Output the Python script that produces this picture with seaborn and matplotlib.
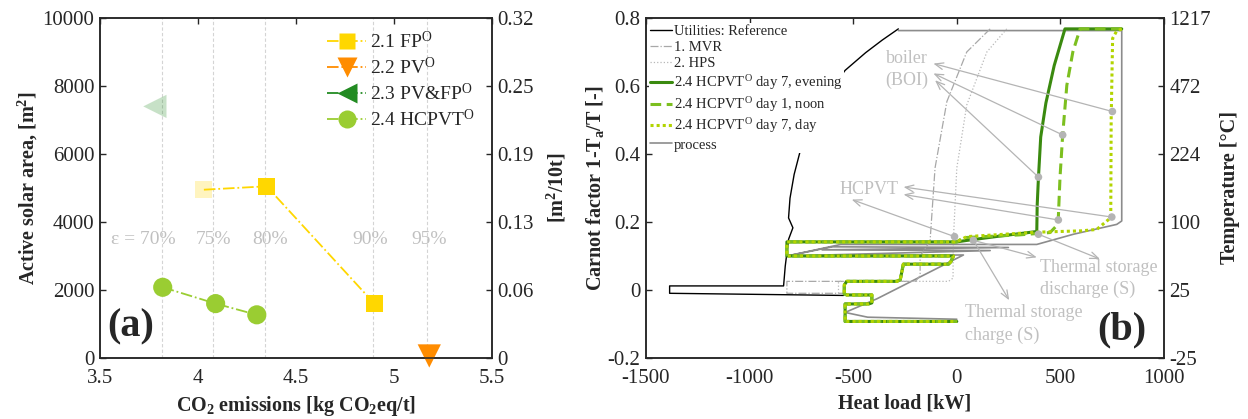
import numpy as np
import pandas as pd
import seaborn as sns
import matplotlib
matplotlib.use("Agg")
from matplotlib import pyplot as plt
from matplotlib.lines import Line2D

# ---- panel (a): active solar area vs CO2 emissions ----
fp_x = [4.03, 4.35, 4.90]
fp_y = [4950, 5050, 1600]
fp_faded = [True, False, False]
pv_x = [5.18]
pv_y = [60]
pvfp_x = [3.78]
pvfp_y = [7400]
hcpvt_x = [3.82, 4.09, 4.30]
hcpvt_y = [2080, 1600, 1270]
eps_x = [3.815, 4.076, 4.343, 4.893, 5.170]
eps_labels = ["\u03b5 = 70%", "75%", "80%", "90%", "95%"]
eps_text_x = [3.72, 4.08, 4.37, 4.876, 5.18]
area_ticks = [0, 2000, 4000, 6000, 8000, 10000]
spec_labels = ["0", "0.06", "0.13", "0.19", "0.25", "0.32"]

# ---- panel (b): Carnot factor vs heat load ----
util_x = [-282, -360, -440, -539, -620, -690, -748, -785, -805, -812, -791, -812, -828, -836, -1386, -1386, -547]
util_y = [0.768, 0.735, 0.698, 0.646, 0.58, 0.505, 0.427, 0.34, 0.27, 0.212, 0.183, 0.149, 0.07, 0.012, 0.012, -0.0097, -0.016]
mvr_x = [161, 48, -48, -105, -129, -160, -177, -177, -200, -820, -820, -539]
mvr_y = [0.768, 0.70, 0.554, 0.359, 0.144, 0.115, 0.10, 0.042, 0.0254, 0.0254, -0.0097, -0.0097]
hps_x = [241, 145, 48, 0, -16, -18, -18, -40, -571, -571, -539]
hps_y = [0.768, 0.70, 0.544, 0.359, 0.154, 0.10, 0.035, 0.0254, 0.0254, -0.013, -0.013]
proc_x = [-282, 796, 796, 772, 563, 386, -560, -820, -600, 249, -650, 161, -820, 32, -386, -539, -430, 0]
proc_y = [0.763, 0.763, 0.203, 0.193, 0.164, 0.134, 0.134, 0.100, 0.127, 0.125, 0.118, 0.116, 0.100, 0.103, -0.026, -0.066, -0.080, -0.086]

stair_x = [0, -820, -820, -16, -29, -40, -258, -273, -290, -531, -543, -543, -530, -410, -410, -425, -539, -539, 0]
stair_y = [0.1415, 0.1415, 0.100, 0.100, 0.083, 0.076, 0.076, 0.030, 0.0254, 0.0254, 0.015, -0.0117, -0.0146, -0.0146, -0.038, -0.041, -0.041, -0.0925, -0.0925]
eve_x = [796, 522, 470, 430, 405, 394, 388, 386, 200, 50] + stair_x
eve_y = [0.768, 0.768, 0.66, 0.55, 0.45, 0.33, 0.25, 0.172, 0.158, 0.146] + stair_y
noon_x = [796, 595, 560, 531, 511, 498, 490, 488, 450, 300, 32] + stair_x
noon_y = [0.768, 0.768, 0.70, 0.602, 0.456, 0.33, 0.2126, 0.193, 0.169, 0.162, 0.154] + stair_y
day_x = [796, 770, 752, 745, 743, 675, 600, 386, 48] + stair_x
day_y = [0.768, 0.76, 0.74, 0.50, 0.2126, 0.178, 0.174, 0.170, 0.157] + stair_y

dot_x = [751, 511, 394, 748, 490, -11, 80, 394]
dot_y = [0.525, 0.456, 0.332, 0.2146, 0.206, 0.157, 0.146, 0.164]
# arrow: (dot index, head x, head y)
arrows = [(0, -113, 0.666), (1, -113, 0.637), (2, -105, 0.617),
          (3, -257, 0.303), (4, -257, 0.281), (5, -507, 0.266),
          (6, 386, 0.096), (7, 691, 0.091), (6, 253, -0.030)]
carnot_ticks = [-0.2, 0, 0.2, 0.4, 0.6, 0.8]
temp_labels = ["-25", "25", "100", "224", "472", "1217"]

sns.set_theme(style="white")
plt.rcParams["font.family"] = ["Liberation Serif", "DejaVu Serif"]
plt.rcParams["mathtext.fontset"] = "custom"
plt.rcParams["mathtext.rm"] = "Liberation Serif"
plt.rcParams["mathtext.it"] = "Liberation Serif:italic"
plt.rcParams["mathtext.bf"] = "Liberation Serif:bold"
plt.rcParams["axes.unicode_minus"] = False
plt.rcParams["xtick.direction"] = "in"
plt.rcParams["ytick.direction"] = "in"
plt.rcParams["axes.edgecolor"] = "#262626"
plt.rcParams["axes.linewidth"] = 1.1

FS = 15
LGRAY = "#c0c0c0"
c_fp, c_pv, c_pvfp, c_hc = "#FFD700", "#FF8C00", "#228B22", "#9ACD32"
c_eve, c_noon, c_day = "#3a8a0f", "#7cbf1f", "#b2d400"

fig = plt.figure(figsize=(12.48, 4.19), dpi=100)
ax = fig.add_axes([100 / 1248, 61 / 419, 392 / 1248, 340 / 419])

for gx in eps_x:
    ax.axvline(gx, color="#d4d4d4", lw=0.8, ls=(0, (3, 2)), zorder=0)
for tx, lab in zip(eps_text_x, eps_labels):
    ax.text(tx, 3490, lab, color=LGRAY, fontsize=14, ha="center", va="center")

sns.lineplot(x=fp_x, y=fp_y, ax=ax, color=c_fp, lw=1.3, linestyle="-.", sort=False, estimator=None)
sns.lineplot(x=hcpvt_x, y=hcpvt_y, ax=ax, color=c_hc, lw=1.3, linestyle="-.", sort=False, estimator=None)
fp_df = pd.DataFrame({"x": fp_x, "y": fp_y, "faded": fp_faded})
sns.scatterplot(data=fp_df[~fp_df.faded], x="x", y="y", ax=ax, marker="s", s=150, color=c_fp, edgecolor="none", zorder=5)
sns.scatterplot(data=fp_df[fp_df.faded], x="x", y="y", ax=ax, marker="s", s=150, color=c_fp, alpha=0.25, edgecolor="none", zorder=5)
sns.scatterplot(x=pv_x, y=pv_y, ax=ax, marker="v", s=280, color=c_pv, edgecolor="none", zorder=5, clip_on=False)
sns.scatterplot(x=pvfp_x, y=pvfp_y, ax=ax, marker="<", s=280, color=c_pvfp, alpha=0.25, edgecolor="none", zorder=5)
sns.scatterplot(x=hcpvt_x, y=hcpvt_y, ax=ax, marker="o", s=190, color=c_hc, edgecolor="none", zorder=5)

ax.text(3.658, 920, "(a)", fontsize=29, fontweight="bold", ha="center", va="center")
ax.set_xlim(3.5, 5.5)
ax.set_ylim(0, 10000)
ax.set_xticks([3.5, 4, 4.5, 5, 5.5])
ax.set_xticklabels(["3.5", "4", "4.5", "5", "5.5"])
ax.set_yticks(area_ticks)
ax.tick_params(labelsize=FS, top=True, right=False, length=4, width=1, color="#262626", pad=4)
ax.tick_params(axis="x", pad=8)
ax.set_xlabel("CO$_\\mathbf{2}$ emissions [kg CO$_\\mathbf{2}$eq/t]", fontsize=14.5, fontweight="bold", labelpad=4)
ax.set_ylabel("Active solar area, [m$^\\mathbf{2}$]", fontsize=14.5, fontweight="bold", labelpad=2)

leg_a = [Line2D([0], [0], color=c_fp, ls="-.", lw=1.3, marker="s", ms=12, mec="none"),
         Line2D([0], [0], color=c_pv, ls="-.", lw=1.3, marker="v", ms=14, mec="none"),
         Line2D([0], [0], color=c_pvfp, ls="-.", lw=1.3, marker="<", ms=14, mec="none"),
         Line2D([0], [0], color=c_hc, ls="-.", lw=1.3, marker="o", ms=13, mec="none")]
ax.legend(leg_a, ["2.1 FP$^{\\mathrm{O}}$", "2.2 PV$^{\\mathrm{O}}$", "2.3 PV&FP$^{\\mathrm{O}}$", "2.4 HCPVT$^{\\mathrm{O}}$"],
          loc="upper left", bbox_to_anchor=(0.56, 0.985), frameon=False, fontsize=14,
          handlelength=2.0, handletextpad=0.2, labelspacing=0.25, borderaxespad=0)

ax2 = ax.twinx()
ax2.set_ylim(0, 10000)
ax2.set_yticks(area_ticks)
ax2.set_yticklabels(spec_labels)
ax2.tick_params(labelsize=FS, length=4, width=1, color="#262626", pad=4)
ax2.set_ylabel("[m$^\\mathbf{2}$/10t]", fontsize=14.5, fontweight="bold", labelpad=8)
ax2.grid(False)

# ---- panel (b) ----
bx = fig.add_axes([646 / 1248, 61 / 419, 518 / 1248, 340 / 419])
sns.lineplot(x=util_x, y=util_y, ax=bx, color="black", lw=1.0, sort=False, estimator=None, zorder=2)
sns.lineplot(x=proc_x, y=proc_y, ax=bx, color="#8c8c8c", lw=1.2, sort=False, estimator=None, zorder=2)
sns.lineplot(x=mvr_x, y=mvr_y, ax=bx, color="#a8a8a8", lw=0.9, linestyle="-.", sort=False, estimator=None, zorder=2)
sns.lineplot(x=hps_x, y=hps_y, ax=bx, color="#b8b8b8", lw=0.9, linestyle=":", sort=False, estimator=None, zorder=2)
sns.lineplot(x=eve_x, y=eve_y, ax=bx, color=c_eve, lw=2.2, sort=False, estimator=None, zorder=3)
sns.lineplot(x=noon_x, y=noon_y, ax=bx, color=c_noon, lw=2.2, linestyle=(0, (3.5, 1.8)), sort=False, estimator=None, zorder=4)
sns.lineplot(x=day_x, y=day_y, ax=bx, color=c_day, lw=2.2, linestyle=(0, (1, 1)), sort=False, estimator=None, zorder=5)

for i, hx, hy in arrows:
    bx.annotate("", xy=(hx, hy), xytext=(dot_x[i], dot_y[i]),
                arrowprops=dict(arrowstyle="->,head_length=0.5,head_width=0.2", color="#b4b4b4", lw=0.9,
                                shrinkA=0, shrinkB=0), zorder=6)
sns.scatterplot(x=dot_x, y=dot_y, ax=bx, color="#b4b4b4", s=30, edgecolor="none", zorder=7)

tkw = dict(color=LGRAY, fontsize=13)
bx.text(-241, 0.680, "boiler", ha="center", va="center", **tkw)
bx.text(-241, 0.617, "(BOI)", ha="center", va="center", **tkw)
bx.text(-425, 0.295, "HCPVT", ha="center", va="center", **tkw)
bx.text(402, 0.066, "Thermal storage", ha="left", va="center", **tkw)
bx.text(402, 0.003, "discharge (S)", ha="left", va="center", **tkw)
bx.text(40, -0.065, "Thermal storage", ha="left", va="center", **tkw)
bx.text(40, -0.133, "charge (S)", ha="left", va="center", **tkw)
bx.text(797, -0.118, "(b)", fontsize=29, fontweight="bold", ha="center", va="center")

bx.set_xlim(-1500, 1000)
bx.set_ylim(-0.2, 0.8)
bx.set_xticks([-1500, -1000, -500, 0, 500, 1000])
bx.set_yticks(carnot_ticks)
bx.set_yticklabels(["-0.2", "0", "0.2", "0.4", "0.6", "0.8"])
bx.tick_params(labelsize=FS, top=True, right=False, length=4, width=1, color="#262626", pad=4)
bx.tick_params(axis="x", pad=8)
bx.set_xlabel("Heat load [kW]", fontsize=14.5, fontweight="bold", labelpad=4)
bx.set_ylabel("Carnot factor 1-T$_\\mathbf{a}$/T [-]", fontsize=14.5, fontweight="bold", labelpad=1)

leg_b = [Line2D([0], [0], color="black", lw=1.0),
         Line2D([0], [0], color="#a8a8a8", lw=0.9, ls="-."),
         Line2D([0], [0], color="#b8b8b8", lw=0.9, ls=":"),
         Line2D([0], [0], color=c_eve, lw=2.2),
         Line2D([0], [0], color=c_noon, lw=2.2, ls=(0, (3.5, 1.8))),
         Line2D([0], [0], color=c_day, lw=2.2, ls=(0, (1, 1))),
         Line2D([0], [0], color="#8c8c8c", lw=1.2)]
lb = bx.legend(leg_b, ["Utilities: Reference", "1. MVR", "2. HPS",
                       "2.4 HCPVT$^{\\mathrm{O}}$ day 7, evening", "2.4 HCPVT$^{\\mathrm{O}}$ day 1, noon",
                       "2.4 HCPVT$^{\\mathrm{O}}$ day 7, day", "process"],
               loc="upper left", bbox_to_anchor=(0.005, 0.985), fontsize=10.5, frameon=True,
               facecolor="white", edgecolor="none", framealpha=1, fancybox=False,
               handlelength=1.5, handletextpad=0.15, labelspacing=0.2, borderpad=0.1, borderaxespad=0)
lb.set_zorder(10)

bx2 = bx.twinx()
bx2.set_ylim(-0.2, 0.8)
bx2.set_yticks(carnot_ticks)
bx2.set_yticklabels(temp_labels)
bx2.tick_params(labelsize=FS, length=4, width=1, color="#262626", pad=4)
bx2.set_ylabel("Temperature [\u00b0C]", fontsize=14.5, fontweight="bold", labelpad=6)
bx2.grid(False)

fig.savefig("out.png", dpi=100)
